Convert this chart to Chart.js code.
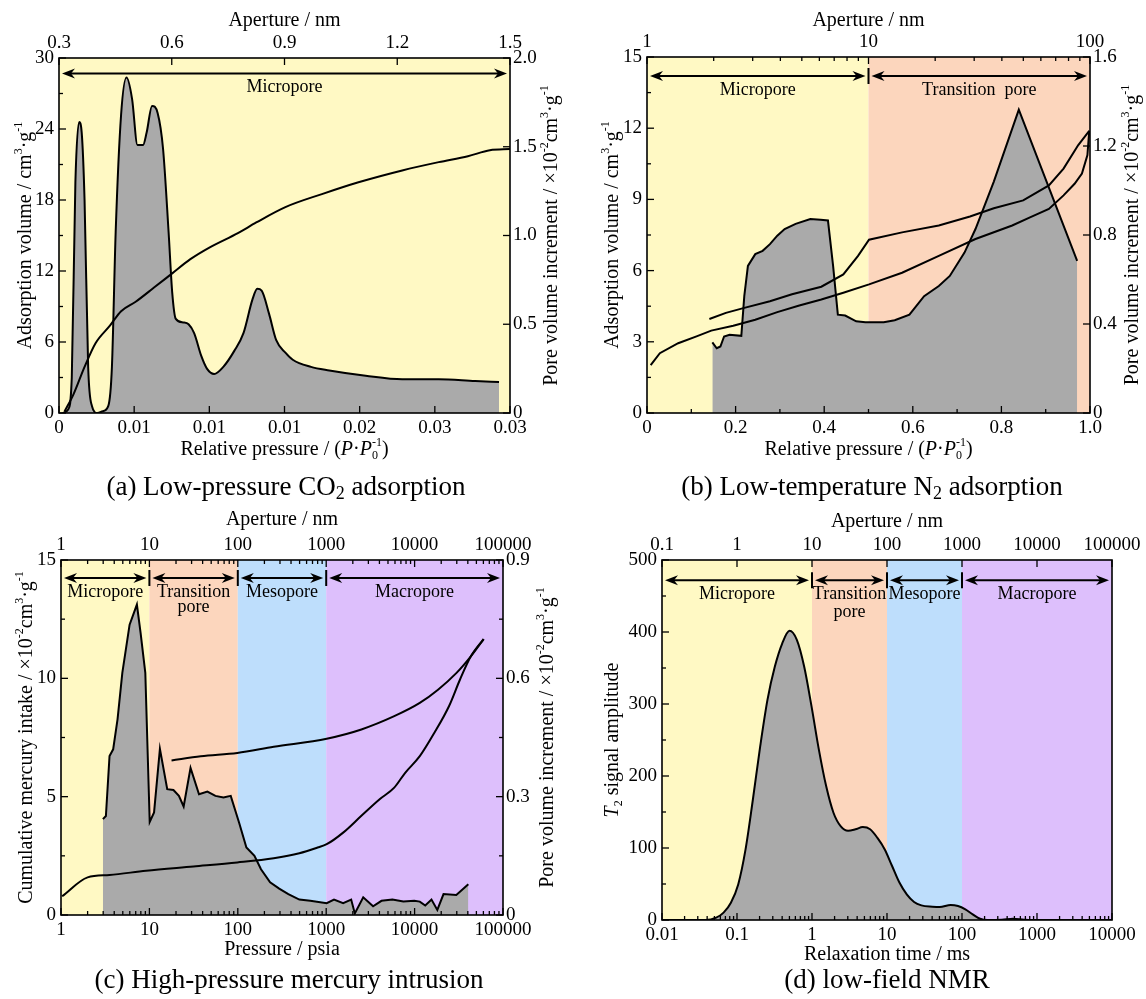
<!DOCTYPE html>
<html>
<head>
<meta charset="utf-8">
<title>Pore size distribution</title>
<script src="https://cdn.jsdelivr.net/npm/chart.js@4.4.1/dist/chart.umd.min.js"></script>
<style>
  html, body { margin: 0; padding: 0; background: #fff; }
  body { position: relative; width: 1146px; height: 999px; overflow: hidden;
         font-family: 'Liberation Serif', 'Times New Roman', serif; color: #000; }
  canvas { position: absolute; }
  .caption { position: absolute; width: 540px; margin-left: -270px; text-align: center;
             font-size: 27px; line-height: 30px; white-space: nowrap; }
  .caption sub { font-size: 18px; vertical-align: -4px; line-height: 0; }
</style>
</head>
<body>
<canvas id="co2" width="573" height="470" style="left:0;top:0"></canvas>
<canvas id="n2" width="573" height="470" style="left:573px;top:0"></canvas>
<canvas id="hg" width="573" height="470" style="left:0;top:500px"></canvas>
<canvas id="nmr" width="573" height="470" style="left:573px;top:500px"></canvas>
<div class="caption" style="left:286px;top:471px">(a) Low-pressure CO<sub>2</sub> adsorption</div>
<div class="caption" style="left:872px;top:471px">(b) Low-temperature N<sub>2</sub> adsorption</div>
<div class="caption" style="left:289px;top:964px">(c) High-pressure mercury intrusion</div>
<div class="caption" style="left:887px;top:964px">(d) low-field NMR</div>

<script>
// (a) low-pressure CO2 adsorption
const co2TickX = [0, 0.005, 0.01, 0.015, 0.02, 0.025, 0.03];
const co2TickXLabels = ['0', '0.01', '0.01', '0.01', '0.02', '0.03', '0.03'];
const co2ApertureTicks = [0.3, 0.6, 0.9, 1.2, 1.5];
const co2ApertureLabels = ['0.3', '0.6', '0.9', '1.2', '1.5'];
const co2AdsTicks = [0, 6, 12, 18, 24, 30];
const co2PoreTicks = [0, 0.5, 1.0, 1.5, 2.0];
const co2PoreLabels = ['0', '0.5', '1.0', '1.5', '2.0'];
const co2Edges = [0, 0.03];
const co2Names = ['Micropore'];

const co2AdsP = [0.00036, 0.00097, 0.0017, 0.00243, 0.0034, 0.00413, 0.0051, 0.00632, 0.00753, 0.00874,
  0.01003, 0.0119, 0.01312, 0.01506, 0.01749, 0.01992, 0.02283, 0.02526, 0.0272, 0.02866, 0.03];
const co2Ads = [0.1, 1.6, 3.9, 5.9, 7.4, 8.6, 9.4, 10.6, 11.8, 13.0,
  14.0, 15.2, 16.1, 17.4, 18.5, 19.5, 20.5, 21.2, 21.7, 22.2, 22.3];

const co2PoreP = [0.00024, 0.00061, 0.00085, 0.00109, 0.00134, 0.00151, 0.0017, 0.00194, 0.00219, 0.00255,
  0.00291, 0.00328, 0.00352, 0.00377, 0.00413, 0.00449, 0.00486, 0.00522, 0.00559, 0.00583,
  0.00619, 0.00656, 0.00692, 0.00729, 0.00753, 0.00777, 0.00826, 0.00862, 0.00899, 0.00947,
  0.00984, 0.01032, 0.01093, 0.01166, 0.01227, 0.01287, 0.01319, 0.01348, 0.01397, 0.01445,
  0.01506, 0.01555, 0.01676, 0.01798, 0.0204, 0.02283, 0.02526, 0.02769, 0.02927];
const co2Pore = [0, 0.02, 0.2, 1.3, 1.64, 1.58, 1.2, 0.26, 0.04, 0,
  0.01, 0.04, 0.26, 1.02, 1.68, 1.89, 1.77, 1.51, 1.51, 1.58,
  1.73, 1.69, 1.49, 1.02, 0.68, 0.53, 0.51, 0.5, 0.45, 0.32,
  0.25, 0.22, 0.26, 0.35, 0.45, 0.64, 0.7, 0.69, 0.56, 0.41,
  0.34, 0.3, 0.26, 0.24, 0.21, 0.19, 0.19, 0.18, 0.175];

// (b) low-temperature N2 adsorption
const n2TickX = [0, 0.2, 0.4, 0.6, 0.8, 1.0];
const n2TickXLabels = ['0', '0.2', '0.4', '0.6', '0.8', '1.0'];
const n2ApertureTicks = [1, 10, 100];
const n2AdsTicks = [0, 3, 6, 9, 12, 15];
const n2PoreTicks = [0, 0.4, 0.8, 1.2, 1.6];
const n2PoreLabels = ['0', '0.4', '0.8', '1.2', '1.6'];
const n2Edges = [0, 0.5, 1.0];
const n2Names = ['Micropore', 'Transition  pore'];

const n2DesorbP = [0.1408, 0.1781, 0.2196, 0.2775, 0.3273, 0.3935, 0.4432, 0.4764, 0.5012, 0.5758,
  0.6587, 0.7291, 0.7829, 0.8492, 0.9072, 0.9403, 0.9735, 0.9983];
const n2Desorb = [3.96, 4.22, 4.43, 4.71, 5.0, 5.32, 5.84, 6.62, 7.3, 7.61,
  7.9, 8.28, 8.63, 8.96, 9.59, 10.3, 11.29, 11.89];
const n2AdsorbP = [0.0083, 0.029, 0.0704, 0.1118, 0.145, 0.1947, 0.2444, 0.2941, 0.3438, 0.3935,
  0.4432, 0.5012, 0.5758, 0.6587, 0.7415, 0.8244, 0.8658, 0.9072, 0.9403, 0.9652, 0.9818, 0.9942, 0.9983];
const n2Adsorb = [2.02, 2.52, 2.94, 3.23, 3.47, 3.68, 3.93, 4.25, 4.53, 4.78,
  5.07, 5.42, 5.91, 6.62, 7.33, 7.9, 8.25, 8.6, 9.17, 9.66, 10.09, 10.87, 11.89];
const n2PoreP = [0.1475, 0.1574, 0.1657, 0.174, 0.1864, 0.2129, 0.2196, 0.2278, 0.2444, 0.261,
  0.2775, 0.2941, 0.3107, 0.3355, 0.3687, 0.3919, 0.4085, 0.4201, 0.4308, 0.4474,
  0.4722, 0.493, 0.5344, 0.5592, 0.5924, 0.6255, 0.6587, 0.6835, 0.7167, 0.7415,
  0.7829, 0.8393, 0.971];
const n2Pore = [0.317, 0.291, 0.299, 0.344, 0.352, 0.347, 0.525, 0.661, 0.714, 0.729,
  0.759, 0.797, 0.827, 0.85, 0.872, 0.868, 0.865, 0.661, 0.442, 0.438,
  0.412, 0.408, 0.408, 0.417, 0.442, 0.525, 0.571, 0.616, 0.721, 0.827,
  1.04, 1.363, 0.684];

// (c) high-pressure mercury intrusion
const hgTickX = [1, 10, 100, 1000, 10000, 100000];
const hgTickXLabels = ['1', '10', '100', '1000', '10000', '100000'];
const hgIntakeTicks = [0, 5, 10, 15];
const hgPoreTicks = [0, 0.3, 0.6, 0.9];
const hgPoreLabels = ['0', '0.3', '0.6', '0.9'];
const hgEdges = [1, 10, 100, 1000, 100000];
const hgNames = ['Micropore', 'Transition\npore', 'Mesopore', 'Macropore'];

const hgIntrusionP = [1.03, 2.0, 3.54, 9.16, 31.5, 98.7, 255, 497, 799, 1013,
  1555, 2500, 4023, 5884, 7826, 11446, 16745, 24480, 32560, 43300, 60420];
const hgIntrusion = [0.79, 1.59, 1.69, 1.87, 2.05, 2.22, 2.4, 2.61, 2.85, 2.99,
  3.48, 4.19, 4.89, 5.38, 6.01, 6.71, 7.7, 8.82, 9.94, 10.93, 11.66];
const hgExtrusionP = [17.8, 38.1, 98.7, 255, 1013, 2500, 5884, 11446, 18400, 29620, 43300, 60420];
const hgExtrusion = [6.53, 6.71, 6.85, 7.11, 7.45, 7.84, 8.4, 8.96, 9.52, 10.22, 10.93, 11.66];
const hgPoreP = [2.98, 3.22, 3.54, 3.89, 4.36, 4.94, 5.97, 7.22, 7.95, 8.99,
  10.08, 11.29, 13.15, 15.91, 18.7, 21.56, 24.4, 29.2, 36.4, 45.3,
  55.8, 68.8, 83.2, 103.5, 125.1, 154.3, 183, 232, 294, 373,
  497, 661, 1013, 1226, 1555, 1916, 2108, 2623, 3390, 4220,
  5610, 7463, 9924, 11450, 13200, 15520, 18070, 21240, 29620, 40540];
const hgPore = [0.243, 0.251, 0.403, 0.42, 0.496, 0.614, 0.736, 0.787, 0.715, 0.614,
  0.236, 0.26, 0.421, 0.319, 0.317, 0.302, 0.275, 0.373, 0.306, 0.313,
  0.302, 0.298, 0.302, 0.234, 0.171, 0.15, 0.116, 0.083, 0.067, 0.053,
  0.039, 0.036, 0.03, 0.039, 0.03, 0.039, 0.004, 0.045, 0.022, 0.036,
  0.039, 0.034, 0.036, 0.034, 0.024, 0.039, 0.013, 0.053, 0.051, 0.078];

// (d) low-field NMR
const nmrTickX = [0.01, 0.1, 1, 10, 100, 1000, 10000];
const nmrTickXLabels = ['0.01', '0.1', '1', '10', '100', '1000', '10000'];
const nmrApertureTicks = [0.1, 1, 10, 100, 1000, 10000, 100000];
const nmrApertureLabels = ['0.1', '1', '10', '100', '1000', '10000', '100000'];
const nmrAmpTicks = [0, 100, 200, 300, 400, 500];
const nmrEdges = [0.01, 1, 10, 100, 10000];
const nmrNames = ['Micropore', 'Transition\npore', 'Mesopore', 'Macropore'];

const nmrT2 = [0.01, 0.0377, 0.0528, 0.0662, 0.0829, 0.1038, 0.13, 0.1627, 0.2038, 0.2551,
  0.3196, 0.4003, 0.5013, 0.6279, 0.7861, 0.9845, 1.233, 1.544, 1.933, 2.421,
  3.032, 3.797, 4.755, 5.955, 7.457, 9.338, 11.69, 14.64, 18.34, 22.96,
  28.75, 40.3, 50.5, 70.7, 88.5, 110.9, 138.9, 173.9, 217.8, 341.6,
  478.6, 670.8, 840, 10000];
const nmrAmp = [0, 0, 3.2, 10.2, 24, 49.4, 98, 167, 241, 306,
  352, 384, 401.6, 389, 352, 297, 237, 186, 149, 130,
  124, 126, 129, 126, 114, 98, 75, 52, 35.6, 25,
  20.3, 18.5, 18, 20.8, 19.4, 14.8, 7.9, 1.8, 0, 0.5,
  1.8, 0.5, 0, 0];

const SERIF = "'Liberation Serif', 'Times New Roman', serif";
const GRAY = 'rgb(170,170,170)';
const YELLOW = 'rgb(255,249,196)';
const PEACH = 'rgb(252,214,189)';
const BLUE = 'rgb(190,222,252)';
const PURPLE = 'rgb(221,191,252)';

Chart.defaults.font.family = SERIF;
Chart.defaults.font.size = 19;
Chart.defaults.color = '#000';

// rich-text pieces for axis titles
const sup = t => ({ t, sup: true });
const sub = t => ({ t, sub: true });
const it = t => ({ t, it: true });
const UNIT = ['cm', sup('3'), '·g', sup('-1')];
const X10 = ['×10', sup('-2'), 'cm', sup('3'), '·g', sup('-1')];
const REL_P = ['Relative pressure / (', it('P'), '·', it('P'), { stack: ['-1', '0'] }, ')'];
const APERTURE = ['Aperture / nm'];

function drawRich(ctx, segs, x, y, size, rot) {
  const small = Math.round(size * 0.62);
  const fontOf = (p, sz) => (p.it ? 'italic ' : '') + sz + 'px ' + SERIF;
  const parts = segs.map(s => (typeof s === 'string' ? { t: s } : s));
  const widths = parts.map(p => {
    if (p.stack) {
      ctx.font = fontOf({}, small);
      return Math.max(ctx.measureText(p.stack[0]).width, ctx.measureText(p.stack[1]).width);
    }
    ctx.font = fontOf(p, p.sup || p.sub ? small : size);
    return ctx.measureText(p.t).width;
  });
  const total = widths.reduce((a, b) => a + b, 0);
  ctx.save();
  ctx.translate(x, y);
  ctx.rotate(rot || 0);
  ctx.fillStyle = '#000';
  ctx.textAlign = 'left';
  ctx.textBaseline = 'middle';
  let cx = -total / 2;
  parts.forEach((p, i) => {
    if (p.stack) {
      ctx.font = fontOf({}, small);
      ctx.fillText(p.stack[0], cx, -size * 0.36);
      ctx.fillText(p.stack[1], cx, size * 0.3);
    } else if (p.sup) {
      ctx.font = fontOf(p, small);
      ctx.fillText(p.t, cx, -size * 0.36);
    } else if (p.sub) {
      ctx.font = fontOf(p, small);
      ctx.fillText(p.t, cx, size * 0.28);
    } else {
      ctx.font = fontOf(p, size);
      ctx.fillText(p.t, cx, 0);
    }
    cx += widths[i];
  });
  ctx.restore();
}

function drawArrow(ctx, x0, x1, y) {
  ctx.beginPath();
  ctx.moveTo(x0 + 6, y);
  ctx.lineTo(x1 - 6, y);
  ctx.stroke();
  [[x0, 1], [x1, -1]].forEach(([tip, d]) => {
    ctx.beginPath();
    ctx.moveTo(tip, y);
    ctx.lineTo(tip + d * 13, y - 5);
    ctx.lineTo(tip + d * 9, y);
    ctx.lineTo(tip + d * 13, y + 5);
    ctx.closePath();
    ctx.fill();
  });
}

function logMinors(lo, hi) {
  const out = [];
  for (let d = lo; d < hi; d *= 10) for (let k = 2; k <= 9; k++) out.push(d * k);
  return out;
}

function steps(lo, hi, step) {
  const out = [];
  for (let v = lo; v <= hi + 1e-9; v += step) out.push(+v.toFixed(6));
  return out;
}

// background bands, pore-class arrows, inward ticks, frame and titles
function panel(cfg) {
  return {
    id: 'panel',
    beforeDatasetsDraw(chart) {
      const { ctx, chartArea: a } = chart;
      const sx = chart.scales.x;
      ctx.save();
      cfg.colors.forEach((c, i) => {
        const x0 = sx.getPixelForValue(cfg.edges[i]);
        const x1 = sx.getPixelForValue(cfg.edges[i + 1]);
        ctx.fillStyle = c;
        ctx.fillRect(x0, a.top, x1 - x0, a.bottom - a.top);
      });
      ctx.restore();
    },
    afterDatasetsDraw(chart) {
      const { ctx, chartArea: a, scales } = chart;
      const px = cfg.edges.map(v => scales.x.getPixelForValue(v));
      const y = scales.y.getPixelForValue(cfg.arrowAt);
      ctx.save();
      ctx.strokeStyle = '#000';
      ctx.fillStyle = '#000';
      ctx.lineWidth = 2;
      for (let i = 0; i < px.length - 1; i++) {
        drawArrow(ctx, px[i] + 3, px[i + 1] - 3, y);
        if (i > 0) {
          ctx.beginPath();
          ctx.moveTo(px[i], y - 8);
          ctx.lineTo(px[i], y + 8);
          ctx.stroke();
        }
        ctx.font = '18px ' + SERIF;
        ctx.textAlign = 'center';
        ctx.textBaseline = 'middle';
        cfg.names[i].split('\n').forEach((s, k) => {
          ctx.fillText(s, (px[i] + px[i + 1]) / 2, y + 14 + k * cfg.lineGap);
        });
      }

      ctx.lineWidth = 1.3;
      Object.keys(scales).forEach(id => {
        const s = scales[id];
        const mark = (v, len) => {
          const p = s.getPixelForValue(v);
          ctx.beginPath();
          if (s.position === 'bottom') { ctx.moveTo(p, a.bottom); ctx.lineTo(p, a.bottom - len); }
          if (s.position === 'top') { ctx.moveTo(p, a.top); ctx.lineTo(p, a.top + len); }
          if (s.position === 'left') { ctx.moveTo(a.left, p); ctx.lineTo(a.left + len, p); }
          if (s.position === 'right') { ctx.moveTo(a.right, p); ctx.lineTo(a.right - len, p); }
          ctx.stroke();
        };
        s.ticks.forEach(t => mark(t.value, 7));
        (cfg.minor[id] || []).forEach(v => mark(v, 4));
      });

      ctx.lineWidth = 1.6;
      ctx.strokeRect(a.left, a.top, a.right - a.left, a.bottom - a.top);
      ctx.restore();
    },
    afterDraw(chart) {
      const { ctx, chartArea: a } = chart;
      const t = cfg.titles;
      const cx = (a.left + a.right) / 2;
      const cy = (a.top + a.bottom) / 2;
      drawRich(ctx, t.top, cx, t.topY, 20, 0);
      drawRich(ctx, t.bottom, cx, t.bottomY, 20, 0);
      drawRich(ctx, t.left, t.leftX, cy, 20, -Math.PI / 2);
      if (t.right) drawRich(ctx, t.right, t.rightX, cy, 20, -Math.PI / 2);
    }
  };
}

function axis(pos, type, ticks, labels, size, pad) {
  return {
    type,
    position: pos,
    min: ticks[0],
    max: ticks[ticks.length - 1],
    grid: { display: false, drawTicks: false },
    border: { display: false },
    afterBuildTicks: s => { s.ticks = ticks.map(v => ({ value: v })); },
    afterFit: s => { if (s.isHorizontal()) s.height = size; else s.width = size; },
    ticks: { autoSkip: false, maxRotation: 0, minRotation: 0, padding: pad,
             callback: (v, i) => labels[i] }
  };
}

function curve(xs, ys, yAxis, filled, smooth) {
  return {
    data: xs.map((x, i) => ({ x, y: ys[i] })),
    yAxisID: yAxis,
    borderColor: '#000',
    borderWidth: 2,
    backgroundColor: filled ? GRAY : 'rgba(0,0,0,0)',
    fill: filled ? 'origin' : false,
    pointRadius: 0,
    tension: 0,
    cubicInterpolationMode: smooth ? 'monotone' : 'default'
  };
}

function build(id, datasets, scales, padRight, cfg) {
  return new Chart(document.getElementById(id), {
    type: 'line',
    data: { datasets },
    options: {
      responsive: false,
      animation: false,
      layout: { padding: { left: 0, top: 0, bottom: 0, right: padRight } },
      plugins: { legend: { display: false }, tooltip: { enabled: false } },
      scales
    },
    plugins: [panel(cfg)]
  });
}

build('co2', [
  curve(co2AdsP, co2Ads, 'y', false, true),
  curve(co2PoreP, co2Pore, 'y2', true, true)
], {
  x: axis('bottom', 'linear', co2TickX, co2TickXLabels, 57, 4),
  xt: axis('top', 'linear', co2ApertureTicks, co2ApertureLabels, 58, 4),
  y: axis('left', 'linear', co2AdsTicks, co2AdsTicks.map(String), 59, 5),
  y2: axis('right', 'linear', co2PoreTicks, co2PoreLabels, 63, 3)
}, 0, {
  edges: co2Edges, names: co2Names, colors: [YELLOW], arrowAt: 28.7, lineGap: 16,
  minor: { y: steps(3, 27, 6) },
  titles: {
    top: APERTURE, topY: 21, bottom: REL_P, bottomY: 450,
    left: ['Adsorption volume / ', ...UNIT], leftX: 26,
    right: ['Pore volume increment / ', ...X10], rightX: 552
  }
});

build('n2', [
  curve(n2DesorbP, n2Desorb, 'y', false, false),
  curve(n2AdsorbP, n2Adsorb, 'y', false, false),
  curve(n2PoreP, n2Pore, 'y2', true, false)
], {
  x: axis('bottom', 'linear', n2TickX, n2TickXLabels, 57, 4),
  xt: axis('top', 'logarithmic', n2ApertureTicks, n2ApertureTicks.map(String), 57, 4),
  y: axis('left', 'linear', n2AdsTicks, n2AdsTicks.map(String), 74, 5),
  y2: axis('right', 'linear', n2PoreTicks, n2PoreLabels, 56, 3)
}, 0, {
  edges: n2Edges, names: n2Names, colors: [YELLOW, PEACH], arrowAt: 14.2, lineGap: 16,
  minor: { x: steps(0.1, 0.9, 0.2), xt: logMinors(1, 100), y: steps(1.5, 13.5, 3) },
  titles: {
    top: APERTURE, topY: 21, bottom: REL_P, bottomY: 450,
    left: ['Adsorption volume / ', ...UNIT], leftX: 40,
    right: ['Pore volume increment / ', ...X10], rightX: 560
  }
});

build('hg', [
  curve(hgIntrusionP, hgIntrusion, 'y', false, true),
  curve(hgExtrusionP, hgExtrusion, 'y', false, true),
  curve(hgPoreP, hgPore, 'y2', true, false)
], {
  x: axis('bottom', 'logarithmic', hgTickX, hgTickXLabels, 55, 4),
  xt: axis('top', 'logarithmic', hgTickX, hgTickXLabels, 60, 4),
  y: axis('left', 'linear', hgIntakeTicks, hgIntakeTicks.map(String), 61, 5),
  y2: axis('right', 'linear', hgPoreTicks, hgPoreLabels, 70, 3)
}, 0, {
  edges: hgEdges, names: hgNames, colors: [YELLOW, PEACH, BLUE, PURPLE], arrowAt: 14.24, lineGap: 15,
  minor: { x: logMinors(1, 100000), xt: logMinors(1, 100000), y: steps(2.5, 12.5, 5), y2: steps(0.15, 0.75, 0.3) },
  titles: {
    top: APERTURE, topY: 20, bottom: ['Pressure / psia'], bottomY: 450,
    left: ['Cumulative mercury intake / ', ...X10], leftX: 27,
    right: ['Pore volume increment / ', ...X10], rightX: 548
  }
});

build('nmr', [
  curve(nmrT2, nmrAmp, 'y', true, true)
], {
  x: axis('bottom', 'logarithmic', nmrTickX, nmrTickXLabels, 50, 4),
  xt: axis('top', 'logarithmic', nmrApertureTicks, nmrApertureLabels, 60, 4),
  y: axis('left', 'linear', nmrAmpTicks, nmrAmpTicks.map(String), 89, 5)
}, 34, {
  edges: nmrEdges, names: nmrNames, colors: [YELLOW, PEACH, BLUE, PURPLE], arrowAt: 472, lineGap: 18,
  minor: { x: logMinors(0.01, 10000), y: steps(50, 450, 100) },
  titles: {
    top: APERTURE, topY: 22, bottom: ['Relaxation time / ms'], bottomY: 455,
    left: [it('T'), sub('2'), ' signal amplitude'], leftX: 40
  }
});
</script>
</body>
</html>
